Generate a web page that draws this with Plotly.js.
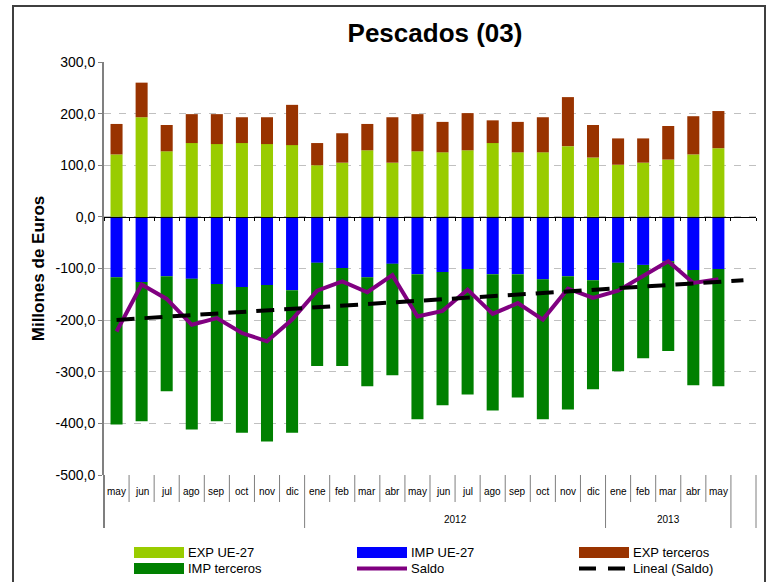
<!DOCTYPE html>
<html>
<head>
<meta charset="utf-8">
<script src="https://cdn.plot.ly/plotly-3.0.1.min.js"></script>
<style>
  html, body { margin: 0; padding: 0; background: #ffffff; }
  #chart { width: 769px; height: 582px; }
</style>
</head>
<body>
<div id="chart"></div>
<script>
// ---- data (Millones de Euros) ----
const months = ['may','jun','jul','ago','sep','oct','nov','dic',
                'ene','feb','mar','abr','may','jun','jul','ago','sep','oct','nov','dic',
                'ene','feb','mar','abr','may'];
const yearOfMonth = [2011,2011,2011,2011,2011,2011,2011,2011,
                     2012,2012,2012,2012,2012,2012,2012,2012,2012,2012,2012,2012,
                     2013,2013,2013,2013,2013];
const yearText = {2011: '', 2012: '2012', 2013: '2013'};

const expUE   = [121,193,127,143,141,143,141,139, 100,105,129,105,127,125,129,143,125,125,137,115, 101,105,111,121,133];
const expTerc = [59,67,51,56,58,50,52,78, 43,57,51,88,72,59,72,44,59,68,95,63, 51,47,65,74,72];
const impUE   = [-117,-126,-115,-120,-130,-136,-132,-142, -89,-99,-117,-91,-111,-107,-101,-111,-111,-121,-115,-123, -89,-93,-86,-103,-101];
const impTerc = [-285,-270,-223,-292,-266,-282,-303,-276, -200,-190,-211,-216,-281,-258,-243,-264,-239,-271,-258,-211, -210,-181,-174,-223,-227];
const saldo   = [-222,-131,-159,-209,-196,-225,-241,-199, -143,-125,-146,-113,-193,-182,-141,-188,-167,-199,-139,-157, -143,-115,-86,-128,-121];

const yTickVals   = [300,200,100,0,-100,-200,-300,-400,-500];
const yTickLabels = ['300,0','200,0','100,0','0,0','-100,0','-200,0','-300,0','-400,0','-500,0'];

const seriesNames = ['EXP UE-27','IMP UE-27','EXP terceros','IMP terceros','Saldo','Lineal (Saldo)'];

// ---- derived ----
const xs = months.map((_, i) => i);
const nSlots = months.length + 1;             // one empty slot after the last month (trend forecast)
const xMin = -0.5, xMax = nSlots - 0.5;

// least-squares linear trend of Saldo, extended one period forward
const n = saldo.length;
const mx = xs.reduce((a,b)=>a+b,0)/n;
const my = saldo.reduce((a,b)=>a+b,0)/n;
let sxy = 0, sxx = 0;
for (let i = 0; i < n; i++) { sxy += (xs[i]-mx)*(saldo[i]-my); sxx += (xs[i]-mx)*(xs[i]-mx); }
const slope = sxy/sxx, icpt = my - slope*mx;
const trendX = [0, n];
const trendY = trendX.map(x => icpt + slope*x);

// ---- geometry helpers (plot area 104..756 x 62..475 px) ----
const W = 769, H = 582, L = 104, R = 13, T = 62, B = 107;
const pw = W - L - R, ph = H - T - B;
const px = v => (v - L) / pw;          // pixel x -> paper
const py = v => (H - B - v) / ph;      // pixel y -> paper
const xp = v => (v - xMin) / (xMax - xMin); // data x -> paper

const ARIAL = '"Liberation Sans", Arial, sans-serif';

const COL = {expUE:'#99CC00', impUE:'#0000FF', expTerc:'#993300', impTerc:'#008000', saldo:'#800080', trend:'#000000'};

const traces = [
  {type:'bar', name:seriesNames[0], x:xs, y:expUE,   marker:{color:COL.expUE},   showlegend:false},
  {type:'bar', name:seriesNames[1], x:xs, y:impUE,   marker:{color:COL.impUE},   showlegend:false},
  {type:'bar', name:seriesNames[2], x:xs, y:expTerc, marker:{color:COL.expTerc}, showlegend:false},
  {type:'bar', name:seriesNames[3], x:xs, y:impTerc, marker:{color:COL.impTerc}, showlegend:false},
  {type:'scatter', mode:'lines', name:seriesNames[4], x:xs, y:saldo, line:{color:COL.saldo, width:4}, showlegend:false},
  {type:'scatter', mode:'lines', name:seriesNames[5], x:trendX, y:trendY, line:{color:COL.trend, width:4, dash:'18px,10px'}, showlegend:false}
];

// ---- category axis decoration: month labels, year labels, separators ----
const shapes = [];
const annotations = [];
const sepGrey = '#7f7f7f';
const monthBottom = py(502), yearBottom = py(528);
const groupBounds = new Set([xMin, xMax, months.length - 0.5]);
for (let i = 1; i < yearOfMonth.length; i++) if (yearOfMonth[i] !== yearOfMonth[i-1]) groupBounds.add(i - 0.5);
for (let b = xMin; b <= xMax + 1e-9; b += 1) {
  const long = groupBounds.has(b);
  shapes.push({type:'line', xref:'paper', yref:'paper', x0:xp(b), x1:xp(b), y0:0, y1: long ? yearBottom : monthBottom,
               line:{color: sepGrey, width: (b === xMin) ? 2 : 1}});
}
months.forEach((m, i) => annotations.push({xref:'x', yref:'paper', x:i, y:py(491), text:m, showarrow:false,
  xanchor:'center', yanchor:'middle', font:{family:ARIAL, size:10, color:'#000'}}));
// year group labels
let gs = 0;
for (let i = 1; i <= yearOfMonth.length; i++) {
  if (i === yearOfMonth.length || yearOfMonth[i] !== yearOfMonth[gs]) {
    const t = yearText[yearOfMonth[gs]];
    if (t) annotations.push({xref:'x', yref:'paper', x:(gs + i - 1)/2, y:py(519), text:t, showarrow:false,
      xanchor:'center', yanchor:'middle', font:{family:ARIAL, size:10, color:'#000'}});
    gs = i;
  }
}

// ---- custom legend (3 columns x 2 rows) ----
const colSw = [134, 357, 579], swW = 50, row = [552.5, 568.5];
const legendItems = [
  {name:seriesNames[0], kind:'box',  color:COL.expUE,   c:0, r:0},
  {name:seriesNames[1], kind:'box',  color:COL.impUE,   c:1, r:0},
  {name:seriesNames[2], kind:'box',  color:COL.expTerc, c:2, r:0},
  {name:seriesNames[3], kind:'box',  color:COL.impTerc, c:0, r:1},
  {name:seriesNames[4], kind:'line', color:COL.saldo,   c:1, r:1},
  {name:seriesNames[5], kind:'dash', color:COL.trend,   c:2, r:1}
];
legendItems.forEach(it => {
  const x0 = colSw[it.c], yc = it.r === 0 ? row[0] : row[1];
  if (it.kind === 'box') {
    shapes.push({type:'rect', xref:'paper', yref:'paper', x0:px(x0), x1:px(x0+swW), y0:py(yc+5.5), y1:py(yc-5.5),
                 fillcolor:it.color, line:{width:0}});
  } else if (it.kind === 'line') {
    shapes.push({type:'line', xref:'paper', yref:'paper', x0:px(x0), x1:px(x0+swW), y0:py(yc), y1:py(yc),
                 line:{color:it.color, width:4}});
  } else {
    shapes.push({type:'line', xref:'paper', yref:'paper', x0:px(x0), x1:px(x0+swW), y0:py(yc), y1:py(yc),
                 line:{color:it.color, width:4, dash:'17px,12px'}});
  }
  annotations.push({xref:'paper', yref:'paper', x:px(x0+swW+2), y:py(yc), text:it.name, showarrow:false,
    xanchor:'left', yanchor:'middle', font:{family:ARIAL, size:13, color:'#000'}});
});

// outer chart frame
shapes.push({type:'rect', xref:'paper', yref:'paper', x0:px(13), x1:px(765), y0:py(600), y1:py(6),
             line:{color:'#3f3f3f', width:2}, fillcolor:'rgba(0,0,0,0)', layer:'below'});

const layout = {
  width: W, height: H,
  margin: {l:L, r:R, t:T, b:B, pad:0},
  paper_bgcolor:'#ffffff', plot_bgcolor:'#ffffff',
  barmode:'relative', bargap:0.52,
  showlegend:false,
  title:{text:'<b>Pescados (03)</b>', font:{family:ARIAL, size:26, color:'#000'},
         xref:'paper', x:px(435), xanchor:'center', yref:'container', y:1-33/H, yanchor:'middle'},
  xaxis:{range:[xMin, xMax], anchor:'free', position:(0 - (-500))/(300 - (-500)),
         showline:true, linecolor:'#000', linewidth:1.5, layer:'above traces',
         ticks:'outside', ticklen:3, tickcolor:'#000', tickwidth:1,
         tickmode:'array', tickvals: Array.from({length:nSlots+1}, (_, k) => xMin + k),
         showticklabels:false, showgrid:false, zeroline:false, fixedrange:true},
  yaxis:{range:[-500, 300], tickmode:'array', tickvals:yTickVals, ticktext:yTickLabels,
         showline:true, linecolor:'#808080', linewidth:2,
         ticks:'outside', ticklen:4, tickcolor:'#808080', tickwidth:1,
         tickfont:{family:ARIAL, size:14, color:'#000'},
         showgrid:true, gridcolor:'#c0c0c0', gridwidth:1, griddash:'7px,8px',
         zeroline:false, fixedrange:true,
         title:{text:'<b>Millones de Euros</b>', font:{family:ARIAL, size:17, color:'#000'}, standoff:7}},
  shapes: shapes,
  annotations: annotations
};

Plotly.newPlot('chart', traces, layout, {displayModeBar:false, staticPlot:true});
</script>
</body>
</html>
